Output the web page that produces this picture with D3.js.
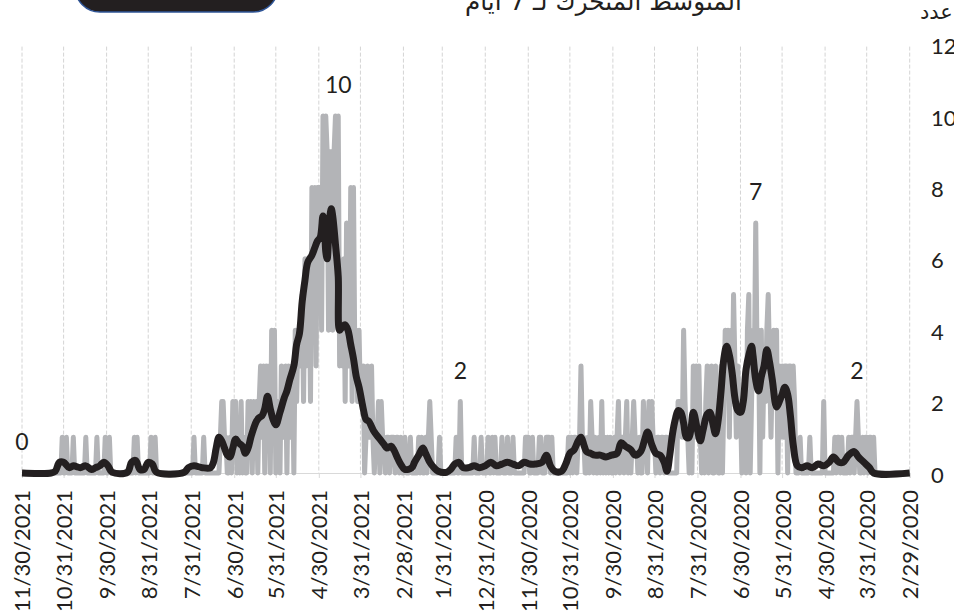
<!DOCTYPE html>
<html>
<head>
<meta charset="utf-8">
<script src="https://cdn.jsdelivr.net/npm/d3@7"></script>
<style>
html, body { margin: 0; padding: 0; background: #fff; overflow: hidden; }
svg { display: block; }
</style>
</head>
<body>
<svg id="chart" width="954" height="611"></svg>
<script>
// ---------------- DATA ----------------
const startDate = "2020-02-29";
const endDate = "2021-11-30";

// daily counts (grey line), one array per month
const feb2020 = [0];
const mar2020 = [0,0,0,0,0,0,0,0,0,0, 0,0,0,0,0,0,0,0,0,0, 0,0,0,0,0,1,0,1,1,0, 1];
const apr2020 = [1,0,1,0,0,1,2,1,0,1, 1,0,1,0,0,0,0,1,0,1, 1,0,1,0,0,0,0,0,0,0];
const may2020 = [2,0,0,0,0,0,0,0,0,0, 1,0,0,0,0,0,0,1,0,0, 0,2,3,2,3,3,0,3,3,1, 3];
const jun2020 = [1,3,0,4,2,4,3,1,3,5, 4,2,3,1,4,0,4,3,7,3, 4,2,0,5,4,0,2,1,0,2];
const jul2020 = [2,3,1,3,5,2,4,1,4,3, 4,2,0,3,0,0,1,3,0,0, 3,1,0,3,2,0,1,0,1,3, 1];
const aug2020 = [3,1,3,0,1,0,1,1,2,4, 1,2,2,2,0,0,0,0,0,0, 0,1,1,0,1,1,0,1,1,0, 1];
const sep2020 = [1,2,1,2,0,1,1,2,0,0, 1,0,1,1,2,1,0,1,0,2, 1,0,1,1,0,2,1,0,1,0];
const oct2020 = [0,1,0,1,0,1,0,2,0,1, 0,0,1,0,1,2,0,1,0,0, 1,1,3,1,1,0,1,1,0,1, 0];
const nov2020 = [1,0,0,0,0,0,0,0,0,0, 0,0,1,0,1,1,1,0,0,0, 1,1,0,0,0,0,1,0,0,1];
const dec2020 = [1,1,0,0,0,0,0,0,0,0, 1,0,0,0,1,0,0,0,1,0, 0,0,0,1,0,1,0,0,1,0, 0];
const jan2021 = [0,0,1,0,0,0,0,1,0,0, 0,0,0,0,0,0,0,2,0,0, 1,0,0,0,0,0,0,0,0,0, 0];
const feb2021 = [0,1,0,0,0,0,0,1,2,1, 0,1,0,0,1,0,1,0,0,0, 0,0,1,0,0,0,1,0];
const mar2021 = [0,1,0,1,1,0,1,1,1,0, 1,1,0,1,1,2,0,2,1,1, 0,1,3,1,2,3,1,0,3,2, 2];
const apr2021 = [4,2,4,3,8,2,8,3,3,7, 2,6,3,4,3,10,5,10,9,4, 9,9,4,9,10,6,10,4,8,8];
const may2021 = [8,3,8,5,8,2,6,6,3,6, 2,5,4,3,4,2,4,0,3,1, 2,3,0,3,1,2,3,0,2,1, 0];
const jun2021 = [4,1,4,0,3,2,3,0,3,1, 3,2,0,2,1,2,0,2,1,2, 0,0,1,0,2,0,1,0,2,1];
const jul2021 = [2,0,1,0,0,1,1,2,2,1, 0,0,0,0,0,0,0,0,0,0, 0,1,0,0,0,0,0,0,1,0, 0];
const aug2021 = [0,0,0,0,0,0,0,0,0,0, 0,0,0,0,0,0,0,0,0,0, 0,0,0,0,0,1,0,0,1,0, 0];
const sep2021 = [0,0,0,0,0,0,0,1,0,1, 0,0,0,0,0,0,0,0,0,0, 0,0,0,0,0,0,0,1,0,0];
const oct2021 = [1,0,0,0,0,0,1,0,0,0, 0,0,0,0,1,0,0,0,0,0, 0,0,0,1,0,0,0,0,1,0, 0];
const nov2021 = [1,0,0,0,0,0,0,0,0,0, 0,0,0,0,0,0,0,0,0,0, 0,0,0,0,0,0,0,0,0,0];

// 7-day moving average (black line)
const maDates = [
"2020-02-29","2020-03-26","2020-03-29","2020-04-02","2020-04-06","2020-04-09","2020-04-13","2020-04-17","2020-04-20","2020-04-24","2020-04-27",
"2020-05-01","2020-05-05","2020-05-09","2020-05-13","2020-05-17","2020-05-20","2020-05-23","2020-05-25","2020-05-27","2020-05-29","2020-05-31",
"2020-06-02","2020-06-04","2020-06-07","2020-06-09","2020-06-11","2020-06-13","2020-06-15","2020-06-17","2020-06-19","2020-06-21","2020-06-22","2020-06-24","2020-06-26","2020-06-28","2020-06-30",
"2020-07-02","2020-07-04","2020-07-06","2020-07-08","2020-07-10","2020-07-12","2020-07-14","2020-07-16","2020-07-18","2020-07-20","2020-07-22","2020-07-24","2020-07-27","2020-07-29","2020-07-31",
"2020-08-03","2020-08-06","2020-08-08","2020-08-10","2020-08-12","2020-08-14","2020-08-16","2020-08-18","2020-08-20","2020-08-22","2020-08-24","2020-08-27","2020-08-30",
"2020-09-02","2020-09-05","2020-09-07","2020-09-10","2020-09-14","2020-09-17","2020-09-21","2020-09-24","2020-09-27",
"2020-10-01","2020-10-05","2020-10-09","2020-10-13","2020-10-16","2020-10-19","2020-10-21","2020-10-23","2020-10-25","2020-10-28","2020-10-31",
"2020-11-03","2020-11-06","2020-11-11","2020-11-14","2020-11-17","2020-11-20","2020-11-25","2020-11-29",
"2020-12-03","2020-12-07","2020-12-11","2020-12-15","2020-12-19","2020-12-23","2020-12-27","2020-12-31",
"2021-01-04","2021-01-08","2021-01-12","2021-01-16","2021-01-19","2021-01-22","2021-01-25","2021-01-28",
"2021-02-03","2021-02-06","2021-02-09","2021-02-12","2021-02-14","2021-02-17","2021-02-20","2021-02-22","2021-02-27",
"2021-03-02","2021-03-04","2021-03-07","2021-03-09","2021-03-12","2021-03-14","2021-03-16","2021-03-18","2021-03-21","2021-03-23","2021-03-25","2021-03-27","2021-03-29","2021-03-30",
"2021-04-01","2021-04-03","2021-04-05","2021-04-07","2021-04-09","2021-04-11","2021-04-13","2021-04-15","2021-04-16","2021-04-18","2021-04-20","2021-04-21","2021-04-22","2021-04-23","2021-04-24","2021-04-25","2021-04-26","2021-04-27","2021-04-29",
"2021-05-01","2021-05-03","2021-05-05","2021-05-08","2021-05-10","2021-05-12","2021-05-14","2021-05-16","2021-05-18","2021-05-21","2021-05-23","2021-05-25","2021-05-28","2021-05-31",
"2021-06-02","2021-06-04","2021-06-06","2021-06-08","2021-06-10","2021-06-12","2021-06-14","2021-06-16","2021-06-18","2021-06-20","2021-06-22","2021-06-24","2021-06-27","2021-06-29",
"2021-07-01","2021-07-03","2021-07-05","2021-07-07","2021-07-09","2021-07-11","2021-07-13","2021-07-15","2021-07-17","2021-07-23","2021-07-29",
"2021-08-02","2021-08-05","2021-08-25","2021-08-28","2021-08-31",
"2021-09-03","2021-09-06","2021-09-09","2021-09-12","2021-09-15","2021-09-26","2021-09-29",
"2021-10-02","2021-10-05","2021-10-08","2021-10-11","2021-10-15","2021-10-19","2021-10-24","2021-10-27","2021-10-31",
"2021-11-03","2021-11-06","2021-11-09","2021-11-30"
];
const maValues = [
0,0,0.15,0.3,0.45,0.6,0.5,0.3,0.3,0.45,0.3,
0.2,0.25,0.15,0.2,0.15,0.2,0.8,1.6,2.2,2.4,2.2,
2.0,1.85,2.6,3.1,3.45,3.0,2.7,2.3,2.6,3.3,3.55,3.3,2.9,2.0,1.7,
1.75,2.1,2.8,3.3,3.55,3.2,2.3,1.5,1.1,1.4,1.7,1.65,1.2,0.9,1.2,
1.7,1.0,1.0,1.4,1.7,1.75,1.5,1.1,0.5,0.05,0.3,0.5,0.55,
0.8,1.15,0.95,0.6,0.5,0.65,0.75,0.85,0.55,
0.5,0.45,0.5,0.5,0.55,0.6,0.8,1.0,0.9,0.65,0.55,
0.25,0.05,0.05,0.2,0.5,0.3,0.25,0.25,
0.3,0.2,0.25,0.3,0.25,0.2,0.3,0.2,
0.15,0.2,0.15,0.15,0.3,0.25,0.1,0.02,
0.05,0.15,0.3,0.55,0.7,0.5,0.3,0.15,0.1,
0.25,0.4,0.65,0.75,0.7,0.8,0.9,1.0,1.15,1.3,1.45,1.5,1.8,2.0,
2.4,2.7,3.2,3.6,4.0,4.15,4.1,4.0,5.5,6.4,7.2,7.4,7.2,6.6,6.0,6.2,7.0,7.2,6.6,
6.5,6.3,6.1,5.9,5.4,4.8,3.9,3.6,3.0,2.6,2.3,2.1,1.7,1.35,
1.5,1.8,2.15,1.8,1.6,1.55,1.45,1.25,1.0,0.7,0.55,0.75,0.85,0.95,
0.7,0.45,0.5,0.7,0.9,1.0,0.7,0.3,0.15,0.15,0.2,
0.15,0.02,0.02,0.25,0.3,
0.1,0.1,0.35,0.3,0.02,0.02,0.2,
0.3,0.2,0.15,0.1,0.2,0.15,0.2,0.15,0.3,
0.3,0.05,0,0
];

const tickLabels = ["2/29/2020","3/31/2020","4/30/2020","5/31/2020","6/30/2020","7/31/2020","8/31/2020","9/30/2020","10/31/2020","11/30/2020","12/31/2020","1/31/2021","2/28/2021","3/31/2021","4/30/2021","5/31/2021","6/30/2021","7/31/2021","8/31/2021","9/30/2021","10/31/2021","11/30/2021"];
const yTicks = [0, 2, 4, 6, 8, 10, 12];

const annoDates = ["2021-04-16", "2020-06-19", "2021-01-18", "2020-04-07", "2021-11-30"];
const annoValues = [10, 7, 2, 2, 0];

const titleText = "المتوسط المتحرك لـ 7 أيام";
const yTitle = "عدد";

// ---------------- CHART ----------------
const parseISO = d3.utcParse("%Y-%m-%d");
const parseTick = d3.utcParse("%m/%d/%Y");
const start = parseISO(startDate);

const dailyValues = [].concat(feb2020, mar2020, apr2020, may2020, jun2020, jul2020, aug2020, sep2020,
  oct2020, nov2020, dec2020, jan2021, feb2021, mar2021, apr2021, may2021, jun2021, jul2021,
  aug2021, sep2021, oct2021, nov2021);
const daily = dailyValues.map((v, i) => ({ date: d3.utcDay.offset(start, i), value: v }));
const ma = maDates.map((s, i) => ({ date: parseISO(s), value: maValues[i] }));
const tickDates = tickLabels.map(parseTick);

const LATIN = "Lato, 'DejaVu Sans', sans-serif";
const svg = d3.select("#chart");

const x = d3.scaleUtc().domain([start, parseISO(endDate)]).range([909.7, 22]);
const y = d3.scaleLinear().domain([0, 12]).range([473, 44.6]);

// legend box (cut off at top)
svg.append("rect")
  .attr("x", 75).attr("y", -40).attr("width", 203).attr("height", 52)
  .attr("rx", 25).attr("ry", 25)
  .attr("fill", "#231f20").attr("stroke", "#2f5597").attr("stroke-width", 1.5);

// title
const title = svg.append("text")
  .attr("x", 603.5).attr("y", 10)
  .attr("text-anchor", "middle")
  .attr("direction", "rtl")
  .style("font-family", "'DejaVu Sans', sans-serif")
  .style("font-size", "23px")
  .attr("fill", "#231f20")
  .text(titleText);
// fit the title to the width it spans in the reference
const tw = title.node().getComputedTextLength();
if (tw > 0) title.style("font-size", (23 * 277 / tw).toFixed(2) + "px");

svg.append("text")
  .attr("x", 920).attr("y", 19)
  .attr("text-anchor", "start")
  .style("font-family", "'DejaVu Sans', sans-serif")
  .style("font-size", "21px")
  .attr("fill", "#231f20")
  .text(yTitle);

// vertical dashed gridlines
svg.append("g").selectAll("line").data(tickDates).join("line")
  .attr("x1", d => x(d)).attr("x2", d => x(d))
  .attr("y1", y(12) + 2).attr("y2", y(0))
  .attr("stroke", "#d4d4d4").attr("stroke-width", 1)
  .attr("stroke-dasharray", "4,2");

// x axis
const xAxis = d3.axisBottom(x)
  .tickValues(tickDates)
  .tickSize(5)
  .tickFormat((d, i) => tickLabels[i]);
const gx = svg.append("g").attr("transform", `translate(0,${y(0)})`).call(xAxis);
gx.select(".domain").attr("stroke", "#d9d9d9");
gx.selectAll(".tick line").attr("stroke", "#d9d9d9");
gx.selectAll(".tick text")
  .attr("transform", "translate(0,17) rotate(-90)")
  .attr("x", 0).attr("y", 0).attr("dy", "0.36em")
  .attr("text-anchor", "end")
  .style("font-family", LATIN)
  .style("font-size", "22px")
  .attr("fill", "#231f20");

// y axis (right)
const yAxis = d3.axisRight(y).tickValues(yTicks).tickSize(0).tickPadding(0);
const gy = svg.append("g").attr("transform", "translate(931,2)").call(yAxis);
gy.select(".domain").remove();
gy.selectAll(".tick text")
  .style("font-family", LATIN)
  .style("font-size", "22px")
  .attr("fill", "#231f20");

// daily grey line
svg.append("path")
  .datum(daily)
  .attr("fill", "none")
  .attr("stroke", "#b3b4b7")
  .attr("stroke-width", 5)
  .attr("stroke-linejoin", "round")
  .attr("d", d3.line().x(d => x(d.date)).y(d => y(d.value)));

// moving average black line
svg.append("path")
  .datum(ma)
  .attr("fill", "none")
  .attr("stroke", "#231f20")
  .attr("stroke-width", 7)
  .attr("stroke-linejoin", "round")
  .attr("stroke-linecap", "butt")
  .attr("d", d3.line().x(d => x(d.date)).y(d => y(d.value)).curve(d3.curveCatmullRom.alpha(0.5)));

// annotations
svg.append("g").selectAll("text").data(annoDates).join("text")
  .attr("x", d => x(parseISO(d)))
  .attr("y", (d, i) => y(annoValues[i]) - 31)
  .attr("dy", "0.35em")
  .attr("text-anchor", "middle")
  .style("font-family", LATIN)
  .style("font-size", "23px")
  .attr("fill", "#231f20")
  .text((d, i) => String(annoValues[i]));
</script>
</body>
</html>
